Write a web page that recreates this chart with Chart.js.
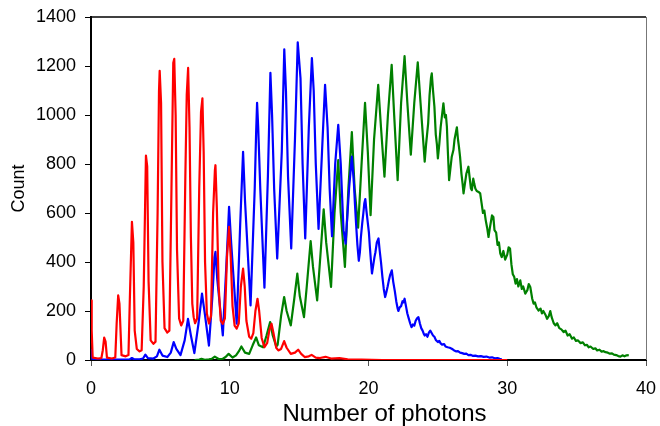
<!DOCTYPE html>
<html>
<head>
<meta charset="utf-8">
<script src="https://cdn.jsdelivr.net/npm/chart.js@4"></script>
<style>
  html, body { margin: 0; padding: 0; background: #fff; }
  #wrap { width: 660px; height: 426px; }
</style>
</head>
<body>
<div id="wrap"><canvas id="photonChart" width="660" height="426"></canvas></div>
<script>
// Photon number histograms for three intensities
const xTicks = [0, 10, 20, 30, 40];
const yTicks = [0, 200, 400, 600, 800, 1000, 1200, 1400];
const xTitle = "Number of photons";

const redX = [0, 0.05, 0.12, 0.5, 0.75, 0.85, 0.95, 1.05, 1.15, 1.5, 1.75, 1.85, 1.96, 2.05, 2.2, 2.5, 2.7, 2.8, 2.95, 3.05,
  3.15, 3.3, 3.5, 3.65, 3.8, 3.96, 4.05, 4.15, 4.3, 4.5, 4.65, 4.8, 4.9, 4.95, 5.05, 5.15, 5.3, 5.5, 5.65, 5.8,
  5.93, 6.0, 6.1, 6.2, 6.35, 6.5, 6.65, 6.8, 6.9, 7.0, 7.1, 7.2, 7.3, 7.4, 7.5, 7.65, 7.8, 7.93, 8.03, 8.12,
  8.22, 8.35, 8.5, 8.65, 8.8, 8.93, 8.97, 9.07, 9.2, 9.35, 9.5, 9.65, 9.8, 9.95, 10.07, 10.2, 10.35, 10.5, 10.65, 10.8,
  10.96, 11.08, 11.2, 11.4, 11.55, 11.7, 11.85, 12.0, 12.12, 12.3, 12.5, 12.7, 12.85, 13.01, 13.15, 13.35, 13.5, 13.7, 13.92, 14.1,
  14.4, 14.7, 14.93, 15.15, 15.4, 15.7, 15.9, 16.2, 16.5, 16.9, 17.3, 17.9, 18.5, 19.5, 21, 30];
const redY = [243, 120, 10, 6, 8, 40, 91, 75, 10, 6, 10, 150, 264, 230, 20, 15, 20, 250, 564, 480,
  120, 45, 35, 40, 300, 834, 790, 320, 80, 66, 75, 600, 1095, 1180, 1050, 400, 130, 112, 120, 700,
  1213, 1229, 1000, 450, 170, 141, 160, 750, 1082, 1192, 950, 500, 230, 175, 150, 170, 700, 1013, 1068, 850,
  400, 190, 149, 180, 600, 775, 795, 620, 300, 160, 148, 170, 420, 543, 420, 220, 140, 128, 150, 300,
  373, 300, 160, 95, 87, 110, 200, 250, 200, 90, 52, 70, 120, 148, 110, 50, 39, 45, 77, 50,
  25, 30, 42, 25, 12, 15, 21, 10, 8, 13, 6, 8, 3, 2, 0, 0];

const blueX = [0, 0.08, 0.5, 2.5, 2.8, 2.95, 3.1, 3.5, 3.75, 3.92, 4.1, 4.5, 4.75, 4.93, 5.15, 5.5, 5.75, 5.96, 6.15, 6.45,
  6.75, 6.99, 7.2, 7.45, 7.75, 8.0, 8.2, 8.5, 8.75, 8.9, 8.97, 9.1, 9.5, 9.75, 9.9, 9.95, 10.1, 10.5, 10.75, 10.96,
  11.1, 11.5, 11.8, 11.9, 11.97, 12.05, 12.2, 12.5, 12.75, 12.93, 13.05, 13.2, 13.42, 13.75, 13.93, 14.05, 14.2, 14.43, 14.7, 14.9,
  15.1, 15.25, 15.44, 15.7, 15.92, 16.05, 16.2, 16.4, 16.65, 16.87, 17.05, 17.2, 17.37, 17.6, 17.82, 18.0, 18.2, 18.35, 18.6, 18.8,
  18.87, 18.95, 19.02, 19.1, 19.2, 19.3, 19.38, 19.45, 19.55, 19.63, 19.7, 19.77, 19.85, 19.95, 20.03, 20.1, 20.18, 20.25, 20.35, 20.43,
  20.5, 20.6, 20.72, 20.8, 20.9, 21.0, 21.1, 21.2, 21.3, 21.38, 21.45, 21.55, 21.68, 21.78, 21.9, 22.0, 22.1, 22.15, 22.25, 22.35,
  22.45, 22.52, 22.6, 22.7, 22.8, 22.9, 23.0, 23.1, 23.2, 23.3, 23.4, 23.5, 23.6, 23.7, 23.8, 23.9, 24.0, 24.05, 24.15, 24.25,
  24.35, 24.45, 24.55, 24.65, 24.75, 24.85, 25.0, 25.1, 25.2, 25.3, 25.45, 25.55, 25.7, 25.85, 26.0, 26.15, 26.3, 26.45, 26.6, 26.75,
  26.9, 27.05, 27.2, 27.35, 27.5, 27.7, 27.9, 28.1, 28.3, 28.5, 28.7, 28.9, 29.1, 29.3, 29.45, 29.6];
const blueY = [45, 5, 2, 2, 3, 8, 3, 3, 6, 22, 8, 6, 15, 42, 18, 12, 30, 73, 45, 20,
  80, 168, 100, 28, 150, 271, 190, 59, 260, 420, 441, 330, 100, 380, 560, 625, 480, 148, 550, 850,
  650, 223, 700, 926, 1050, 950, 700, 295, 750, 1172, 1000, 700, 414, 850, 1268, 1100, 750, 455, 900, 1297,
  1150, 800, 496, 950, 1232, 1100, 800, 535, 850, 1123, 950, 700, 505, 800, 960, 800, 530, 475, 700, 830,
  780, 720, 640, 560, 470, 405, 440, 500, 560, 600, 640, 657, 610, 560, 520, 460, 400, 353, 390, 420,
  440, 480, 496, 450, 400, 340, 290, 257, 280, 300, 320, 345, 366, 320, 280, 240, 210, 200, 215, 220,
  240, 235, 250, 220, 190, 170, 150, 134, 145, 140, 160, 170, 175, 150, 130, 120, 105, 100, 105, 95,
  112, 120, 110, 100, 95, 82, 73, 78, 68, 63, 65, 55, 52, 50, 46, 40, 35, 36, 30, 28,
  25, 26, 20, 21, 17, 18, 15, 16, 13, 14, 10, 11, 7, 8, 5, 4];

const greenX = [7.47, 7.8, 7.96, 8.2, 8.5, 8.7, 8.92, 9.2, 9.5, 9.7, 9.92, 10.2, 10.45, 10.65, 10.84, 11.1, 11.4, 11.65, 11.9, 12.1,
  12.4, 12.65, 12.91, 13.1, 13.35, 13.45, 13.7, 13.92, 14.1, 14.4, 14.65, 14.87, 15.05, 15.35, 15.55, 15.83, 16.0, 16.3, 16.5, 16.77,
  16.95, 17.3, 17.55, 17.82, 18.0, 18.3, 18.55, 18.8, 19.0, 19.25, 19.5, 19.75, 19.95, 20.15, 20.4, 20.7, 20.9, 21.15, 21.4, 21.67,
  21.85, 22.1, 22.35, 22.6, 22.8, 23.05, 23.3, 23.55, 23.75, 24.05, 24.15, 24.3, 24.4, 24.5, 24.56, 24.65, 24.75, 24.85, 24.93, 25.0,
  25.1, 25.2, 25.3, 25.4, 25.5, 25.58, 25.65, 25.72, 25.81, 25.9, 26.0, 26.12, 26.2, 26.3, 26.37, 26.45, 26.52, 26.6, 26.7, 26.78,
  26.85, 26.95, 27.05, 27.2, 27.3, 27.38, 27.45, 27.55, 27.62, 27.7, 27.8, 27.93, 28.05, 28.15, 28.25, 28.35, 28.45, 28.55, 28.65, 28.75,
  28.9, 29.0, 29.08, 29.2, 29.3, 29.4, 29.5, 29.6, 29.72, 29.85, 30.0, 30.1, 30.2, 30.3, 30.4, 30.5, 30.6, 30.7, 30.8, 30.94,
  31.05, 31.15, 31.3, 31.45, 31.55, 31.66, 31.8, 31.9, 32.0, 32.1, 32.26, 32.4, 32.5, 32.6, 32.75, 32.87, 33.0, 33.1, 33.2, 33.35,
  33.47, 33.6, 33.75, 33.9, 34.06, 34.2, 34.35, 34.5, 34.67, 34.8, 34.95, 35.1, 35.27, 35.45, 35.6, 35.75, 35.87, 36.0, 36.2, 36.35,
  36.48, 36.65, 36.8, 36.95, 37.08, 37.25, 37.4, 37.55, 37.68, 37.85, 38.0, 38.16, 38.3, 38.45, 38.6, 38.76];
const greenY = [0, 2, 5, 1, 3, 5, 14, 4, 5, 12, 25, 10, 19, 35, 55, 30, 25, 60, 92, 60,
  52, 100, 155, 100, 55, 62, 180, 257, 200, 141, 250, 353, 260, 175, 300, 485, 380, 243, 400, 615,
  480, 298, 600, 816, 600, 380, 700, 930, 700, 540, 800, 1050, 850, 591, 900, 1123, 950, 748, 1000, 1205,
  1000, 734, 1050, 1240, 1050, 838, 1050, 1215, 1050, 810, 880, 966, 1080, 1150, 1170, 1100, 1034, 920, 880, 823,
  880, 950, 1000, 1048, 990, 1000, 952, 850, 734, 780, 830, 857, 900, 930, 950, 900, 870, 829, 760, 720,
  680, 720, 760, 789, 740, 700, 693, 740, 720, 700, 690, 686, 680, 640, 600, 610, 570, 540, 502, 540,
  590, 584, 530, 520, 470, 480, 434, 420, 445, 410, 430, 460, 455, 390, 350, 340, 312, 330, 300, 325,
  290, 300, 271, 285, 310, 298, 250, 230, 235, 215, 202, 210, 190, 200, 185, 168, 180, 200, 175, 150,
  141, 150, 130, 125, 114, 120, 100, 105, 87, 92, 78, 80, 69, 72, 60, 62, 52, 55, 45, 48,
  39, 42, 34, 36, 32, 30, 26, 27, 22, 20, 16, 14, 19, 15, 19, 20];

function toPoints(xs, ys) {
  return xs.map((x, i) => ({ x: x, y: ys[i] }));
}

const font = "'Liberation Sans', Arial, sans-serif";

// top and right edges of the plot box, plus the x axis title (sits a bit right of centre)
const frame = {
  id: "frame",
  afterDraw(chart) {
    const { ctx, chartArea: a } = chart;
    ctx.save();
    ctx.strokeStyle = "#000";
    ctx.lineWidth = 1.5;
    ctx.beginPath();
    ctx.moveTo(a.left, a.top);
    ctx.lineTo(a.right, a.top);
    ctx.stroke();
    ctx.strokeStyle = "#777";
    ctx.lineWidth = 1;
    ctx.beginPath();
    ctx.moveTo(a.right + 0.5, a.top);
    ctx.lineTo(a.right + 0.5, a.bottom);
    ctx.stroke();

    ctx.fillStyle = "#000";
    ctx.font = "24px " + font;
    ctx.textAlign = "center";
    ctx.textBaseline = "middle";
    ctx.fillText(xTitle, (a.left + a.right) / 2 + 16, a.bottom + 54);
    ctx.restore();
  }
};

new Chart(document.getElementById("photonChart"), {
  type: "line",
  data: {
    datasets: [
      { data: toPoints(redX, redY), borderColor: "#ff0000" },
      { data: toPoints(blueX, blueY), borderColor: "#0000ff" },
      { data: toPoints(greenX, greenY), borderColor: "#008000" }
    ]
  },
  options: {
    responsive: false,
    animation: false,
    layout: { padding: { top: 17, right: 14, left: 0, bottom: 0 } },
    elements: {
      point: { radius: 0 },
      line: { borderWidth: 2.2, tension: 0, borderJoinStyle: "round" }
    },
    plugins: {
      legend: { display: false },
      tooltip: { enabled: false }
    },
    scales: {
      x: {
        type: "linear",
        min: xTicks[0],
        max: xTicks[xTicks.length - 1],
        afterBuildTicks: s => { s.ticks = xTicks.map(v => ({ value: v })); },
        // fixed box so the plot area lands where it should
        afterFit: s => { s.height = 66; s.paddingLeft = 0; s.paddingRight = 0; },
        ticks: { color: "#000", font: { family: font, size: 18 }, padding: 12, maxRotation: 0, callback: v => String(v) },
        grid: { drawOnChartArea: false, drawTicks: true, tickLength: 6, color: "#555" },
        border: { color: "#000", width: 2 }
      },
      y: {
        min: yTicks[0],
        max: yTicks[yTicks.length - 1],
        afterBuildTicks: s => { s.ticks = yTicks.map(v => ({ value: v })); },
        afterFit: s => { s.width = 91; s.paddingTop = 0; s.paddingBottom = 0; },
        ticks: { color: "#000", font: { family: font, size: 18 }, padding: 9, callback: v => String(v) },
        grid: { drawOnChartArea: false, drawTicks: true, tickLength: 6, color: "#000" },
        border: { color: "#000", width: 2 },
        title: { display: true, text: "Count", color: "#000", font: { family: font, size: 18 }, padding: { top: 8, bottom: 0 } }
      }
    }
  },
  plugins: [frame]
});
</script>
</body>
</html>
